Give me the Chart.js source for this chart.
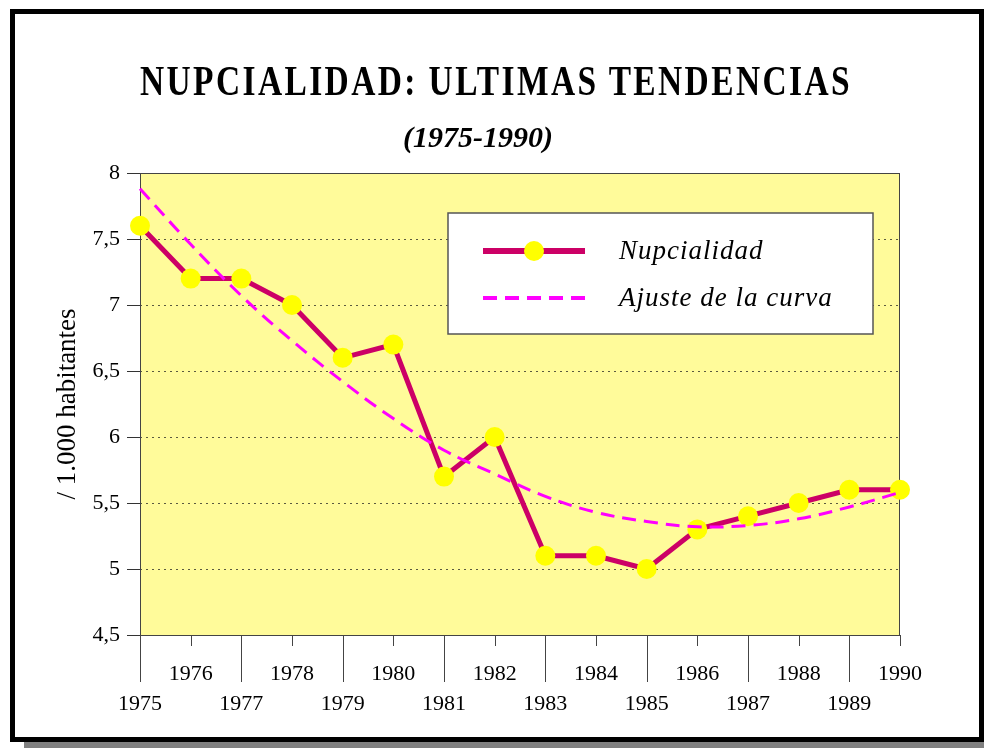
<!DOCTYPE html>
<html>
<head>
<meta charset="utf-8">
<title>Nupcialidad</title>
<script src="https://cdn.jsdelivr.net/npm/chart.js@4.4.0/dist/chart.umd.min.js"></script>
<style>
  html, body { margin: 0; padding: 0; background: #fff; }
  #wrap { position: relative; width: 984px; height: 748px; overflow: hidden; }
  #frame { position: absolute; left: 10px; top: 9px; width: 974px; height: 733px; border: 5px solid #000; box-sizing: border-box; }
  #shadow { position: absolute; left: 24px; top: 742px; width: 960px; height: 6px; background: #808080; }
  #title { position: absolute; top: 60px; left: 140px; font: bold 42px 'Liberation Serif', serif; line-height: 42px; letter-spacing: 3px; white-space: nowrap; transform-origin: 0 0; color: #000; }
  #subtitle { position: absolute; top: 122px; left: 0; width: 956px; text-align: center; font: italic bold 30px 'Liberation Serif', serif; line-height: 30px; color: #000; }
  canvas { position: absolute; left: 0; top: 0; }
</style>
</head>
<body>
<div id="wrap">
  <div id="frame"></div>
  <div id="shadow"></div>
  <canvas id="chart" width="984" height="748"></canvas>
  <div id="title">NUPCIALIDAD: ULTIMAS TENDENCIAS</div>
  <div id="subtitle">(1975-1990)</div>
</div>
<script>
const years = ['1975', '1976', '1977', '1978', '1979', '1980', '1981', '1982',
               '1983', '1984', '1985', '1986', '1987', '1988', '1989', '1990'];
const nupcialidad = [7.6, 7.2, 7.2, 7.0, 6.6, 6.7, 5.7, 6.0, 5.1, 5.1, 5.0, 5.3, 5.4, 5.5, 5.6, 5.6];
const ajuste = [7.88, 7.46, 7.07, 6.73, 6.42, 6.14, 5.90, 5.72, 5.55, 5.43, 5.36, 5.32, 5.33, 5.38, 5.47, 5.58];
const seriesNames = ['Nupcialidad', 'Ajuste de la curva'];

// squeeze the title to the width it has in the original
const title = document.getElementById('title');
const tw = title.getBoundingClientRect().width;
title.style.transform = 'scaleX(' + (712 / tw) + ')';

const PLOT_BG = '#FFFB9A';
const SERIF = "'Liberation Serif', serif";

const plotDecor = {
  id: 'plotDecor',
  beforeDraw(chart) {
    const { ctx, chartArea: a } = chart;
    ctx.save();
    ctx.fillStyle = PLOT_BG;
    ctx.fillRect(a.left, a.top, a.right - a.left, a.bottom - a.top);
    ctx.restore();
  },
  beforeDatasetsDraw(chart) {
    const { ctx, chartArea: a } = chart;
    const x = chart.scales.x;
    ctx.save();
    ctx.strokeStyle = '#444';
    ctx.lineWidth = 1;
    ctx.strokeRect(a.left + 0.5, a.top + 0.5, a.right - a.left - 1, a.bottom - a.top);
    // alternating short / long ticks under the x axis
    ctx.beginPath();
    x.ticks.forEach((t, i) => {
      const px = Math.round(x.getPixelForTick(i)) + 0.5;
      const len = i % 2 === 0 ? 47 : 11;
      ctx.moveTo(px, a.bottom);
      ctx.lineTo(px, a.bottom + len);
    });
    ctx.stroke();
    ctx.restore();
  },
  afterDatasetsDraw(chart) {
    const { ctx, chartArea: a } = chart;
    const bx = a.left + 308, by = a.top + 40, bw = 425, bh = 121;
    ctx.save();
    ctx.fillStyle = '#fff';
    ctx.fillRect(bx, by, bw, bh);
    ctx.strokeStyle = '#555';
    ctx.lineWidth = 1.5;
    ctx.strokeRect(bx, by, bw, bh);
    chart.data.datasets.forEach((ds, i) => {
      const ly = by + 38 + i * 47;
      ctx.beginPath();
      ctx.strokeStyle = ds.borderColor;
      ctx.lineWidth = ds.borderWidth + 1;
      ctx.setLineDash(ds.borderDash || []);
      ctx.moveTo(bx + 35, ly);
      ctx.lineTo(bx + 137, ly);
      ctx.stroke();
      ctx.setLineDash([]);
      if (ds.pointRadius > 0) {
        ctx.beginPath();
        ctx.fillStyle = ds.pointBackgroundColor;
        ctx.arc(bx + 86, ly, ds.pointRadius, 0, Math.PI * 2);
        ctx.fill();
      }
      ctx.fillStyle = '#000';
      ctx.font = 'italic 27px ' + SERIF;
      ctx.letterSpacing = '1px';
      ctx.textBaseline = 'middle';
      ctx.textAlign = 'left';
      ctx.fillText(ds.label, bx + 171, ly + 1);
    });
    ctx.restore();
  }
};

new Chart(document.getElementById('chart'), {
  type: 'line',
  data: {
    labels: years,
    datasets: [
      {
        label: seriesNames[0],
        data: nupcialidad,
        borderColor: '#CC0066',
        borderWidth: 5,
        pointBackgroundColor: '#FFFF00',
        pointBorderWidth: 0,
        pointRadius: 10,
        pointHoverRadius: 10,
        tension: 0,
        clip: false,
        order: 1
      },
      {
        label: seriesNames[1],
        data: ajuste,
        borderColor: '#FF00FF',
        borderWidth: 3,
        borderDash: [14, 8],
        pointRadius: 0,
        tension: 0.4,
        clip: false,
        order: 0
      }
    ]
  },
  options: {
    responsive: false,
    animation: false,
    layout: { padding: { top: 173, right: 84, left: 0, bottom: 0 } },
    plugins: {
      legend: { display: false },
      title: { display: false },
      tooltip: { enabled: false }
    },
    scales: {
      x: {
        type: 'category',
        grid: { display: false, drawTicks: false },
        border: { display: false },
        ticks: {
          autoSkip: false,
          maxRotation: 0,
          padding: 24,
          color: '#000',
          font: { family: SERIF, size: 22, lineHeight: 30 / 22 },
          callback(v, i) {
            const lab = this.getLabelForValue(v);
            return i % 2 === 0 ? ['', lab] : lab;
          }
        },
        afterFit(s) { s.height = 113; }
      },
      y: {
        min: 4.5,
        max: 8,
        ticks: {
          stepSize: 0.5,
          padding: 7,
          color: '#000',
          font: { family: SERIF, size: 22 },
          callback: v => String(v).replace('.', ',')
        },
        grid: {
          color: c => (c.tick && (c.tick.value === 8 || c.tick.value === 4.5)) ? 'rgba(0,0,0,0)' : '#5a5a40',
          lineWidth: 1,
          tickColor: '#333',
          tickLength: 13,
          tickWidth: 1,
          tickBorderDash: []
        },
        border: { display: false, dash: [2, 4] },
        title: {
          display: true,
          text: '/ 1.000 habitantes',
          color: '#000',
          font: { family: SERIF, size: 27, lineHeight: 1.2 },
          padding: { top: 52, bottom: 0 }
        },
        afterFit(s) { s.width = 140; }
      }
    }
  },
  plugins: [plotDecor]
});
</script>
</body>
</html>
